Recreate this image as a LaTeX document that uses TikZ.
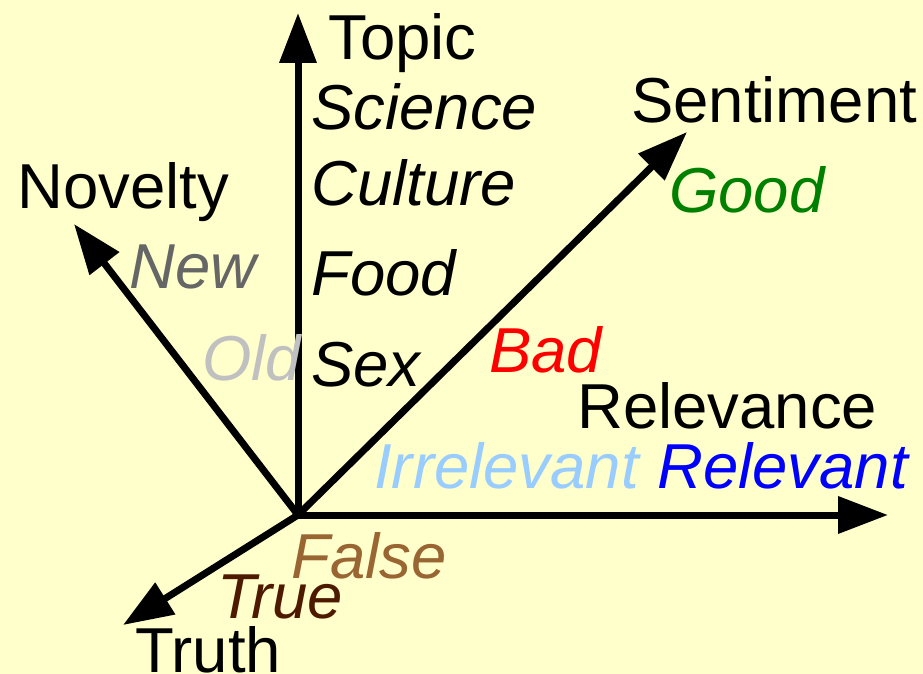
\documentclass[tikz,border=0pt]{standalone}
\usepackage{fontspec}
\setmainfont{Liberation Sans}
\usetikzlibrary{arrows.meta}
\definecolor{fondo}{HTML}{FFFFCC}
\definecolor{gnew}{HTML}{666666}
\definecolor{gold}{HTML}{C0C0C0}
\definecolor{verde}{HTML}{008000}
\definecolor{celeste}{HTML}{99CCFF}
\definecolor{marron}{HTML}{996633}
\definecolor{oscuro}{HTML}{4D1A00}

\begin{document}
\begin{tikzpicture}[x=1pt, y=-1pt, font=\fontsize{63.5}{70}\selectfont,
      >={Triangle[length=50pt,width=36pt]},
      ax/.style={line width=7pt, ->},
      lab/.style={anchor=base west, inner sep=0pt},
      val/.style={lab, font=\fontsize{63.5}{70}\selectfont\itshape}]
    \fill[fondo] (0,0) rectangle (923,674);
    \useasboundingbox (0,0) rectangle (923,674);
    \coordinate (o) at (298,515);
    \coordinate (topic) at (298,13);
    \coordinate (sent) at (687,132);
    \coordinate (nov) at (74,224);
    \coordinate (rel) at (888,515);
    \coordinate (truth) at (123,625);
    \foreach \t in {topic,sent,nov,rel,truth} \draw[ax] (o) -- (\t);
    % axis names
    \node[lab] (ltopic) at (328,60) {Topic};
    \node[lab] (lsent) at (631,122) {Sentiment};
    \node[lab] (lnov) at (17,208) {Novelty};
    \node[lab] (lrel) at (577,428) {Relevance};
    \node[lab] (ltruth) at (135,672) {Truth};
    % values
    \node[val] (science) at (311,130) {Science};
    \node[val] (culture) at (311,205) {Culture};
    \node[val] (food) at (311,295) {Food};
    \node[val] (sex) at (311,386) {Sex};
    \node[val, text=gnew] (new) at (129,288) {New};
    \node[val, text=gold] (old) at (202,380) {Old};
    \node[val, text=verde] (good) at (669,212) {Good};
    \node[val, text=red] (bad) at (489,372) {Bad};
    \node[val, text=celeste] (irrel) at (374,488) {Irrelevant};
    \node[val, text=blue] (relev) at (657,488) {Relevant};
    \node[val, text=marron] (false) at (291,578) {False};
    \node[val, text=oscuro] (true) at (217,618) {True};
  \end{tikzpicture}
\end{document}
